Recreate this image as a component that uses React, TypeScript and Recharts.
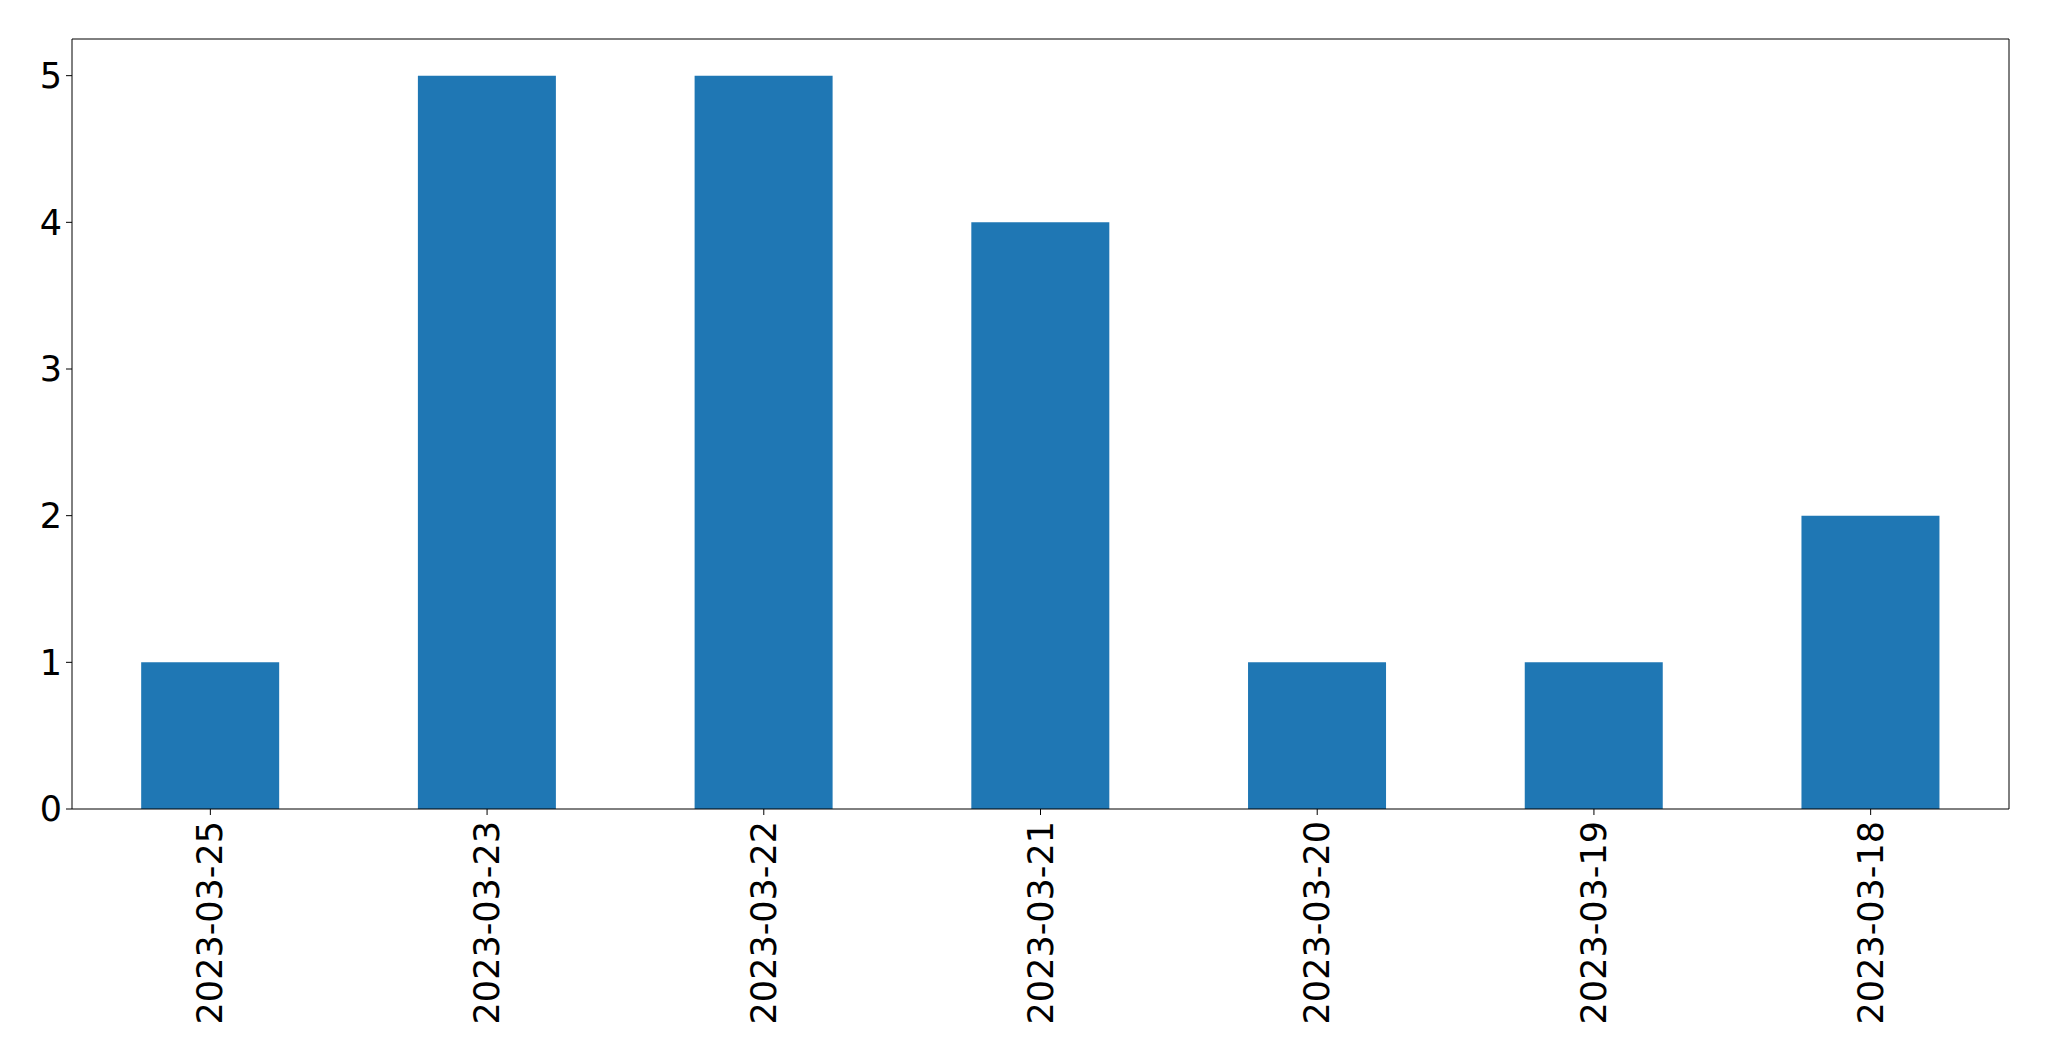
import React from 'react';
import { BarChart, Bar, XAxis, YAxis, CartesianGrid } from 'recharts';

const dates = ['2023-03-25', '2023-03-23', '2023-03-22', '2023-03-21', '2023-03-20', '2023-03-19', '2023-03-18'];
const counts = [1, 5, 5, 4, 1, 1, 2];
const yTicks = [0, 1, 2, 3, 4, 5];

const data = dates.map((d, i) => ({ name: d, count: counts[i] }));

const FONT = '"DejaVu Sans", sans-serif';

const DateTick = ({ x, y, payload }: any) => (
  <g transform={`translate(${x},${y}) rotate(-90)`}>
    <text textAnchor="end" dominantBaseline="central" fill="#000" fontSize={35} fontFamily={FONT}>
      {payload.value}
    </text>
  </g>
);

export default function App() {
  return (
    <div style={{ position: 'absolute', left: 0, top: 0, width: 2049, height: 1061, background: '#fff' }}>
      <BarChart
        width={2049}
        height={1061}
        data={data}
        margin={{ top: 39, right: 40, left: 0, bottom: 0 }}
        barCategoryGap="25%"
      >
        {/* top + right frame lines */}
        <CartesianGrid
          stroke="#000"
          strokeOpacity={1}
          horizontalCoordinatesGenerator={({ offset }: any) => [offset.top]}
          verticalCoordinatesGenerator={({ offset }: any) => [offset.left + offset.width]}
        />
        <XAxis
          dataKey="name"
          height={252}
          interval={0}
          tickSize={6}
          tickMargin={6}
          stroke="#000"
          tick={<DateTick />}
        />
        <YAxis
          domain={[0, 5.25]}
          ticks={yTicks}
          width={72}
          tickSize={6}
          tickMargin={4}
          stroke="#000"
          tick={{ fill: '#000', fontSize: 35, fontFamily: FONT }}
        />
        <Bar dataKey="count" fill="#1f77b4" isAnimationActive={false} />
      </BarChart>
    </div>
  );
}
